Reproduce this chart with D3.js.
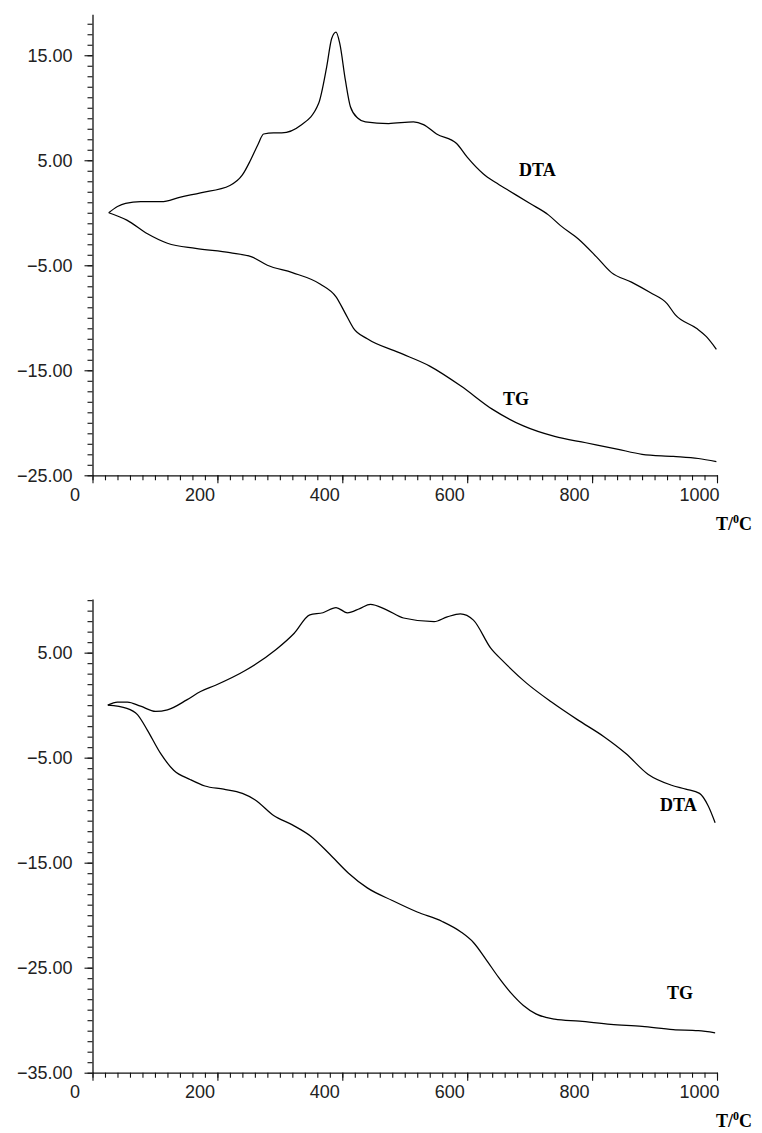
<!DOCTYPE html>
<html><head><meta charset="utf-8">
<script src="https://cdn.jsdelivr.net/npm/d3@7"></script>
<style>body{margin:0;background:#fff} svg{display:block}</style>
</head><body><svg id="c" width="762" height="1133"></svg>
<script>
// ---------- DATA ----------
const xTickValues = [0, 200, 400, 600, 800, 1000];
const xTickLabels = ["0", "200", "400", "600", "800", "1000"];

const topYTickValues = [15, 5, -5, -15, -25];
const topYTickLabels = ["15.00", "5.00", "\u22125.00", "\u221215.00", "\u221225.00"];
const botYTickValues = [5, -5, -15, -25, -35];
const botYTickLabels = ["5.00", "\u22125.00", "\u221215.00", "\u221225.00", "\u221235.00"];

// Top chart: DTA
const topDTA_T = [26, 40, 53, 77, 110, 141, 173, 220, 240, 253, 265, 274, 290, 303, 333, 362, 375, 383, 390, 396, 405, 413, 425, 437, 474, 514, 530, 551, 583, 600, 626, 645, 667, 700, 730, 749, 778, 807, 831, 863, 893, 920, 933, 967, 983, 999];
const topDTA_V = [0, 0.6, 0.9, 1.05, 1.05, 1.5, 1.9, 2.6, 3.6, 5.0, 6.5, 7.5, 7.6, 7.6, 8.3, 10.4, 13.9, 16.6, 17.2, 16.1, 12.6, 10.1, 9.0, 8.65, 8.5, 8.65, 8.4, 7.5, 6.6, 5.3, 3.7, 2.9, 2.1, 0.9, -0.2, -1.2, -2.5, -4.2, -5.7, -6.6, -7.6, -8.65, -9.7, -11.0, -11.8, -13.0];
// Top chart: TG
const topTG_T = [26, 55, 88, 120, 165, 220, 255, 280, 320, 365, 390, 405, 418, 440, 490, 540, 590, 640, 690, 740, 790, 840, 880, 930, 970, 999];
const topTG_V = [0, -0.7, -2.0, -2.9, -3.4, -3.8, -4.2, -5.0, -5.7, -6.8, -8.0, -9.6, -11.0, -12.0, -13.3, -14.6, -16.5, -18.7, -20.3, -21.3, -21.9, -22.5, -23.0, -23.2, -23.4, -23.7];

// Bottom chart: DTA
const botDTA_T = [24.5, 40, 56, 77, 101, 120, 151, 173, 197, 246, 294, 323, 348, 369, 390, 408, 428, 445, 470, 498, 547, 568, 589, 610, 638, 659, 695, 735, 777, 819, 854, 890, 926, 950, 972, 986, 997];
const botDTA_V = [0, 0.3, 0.3, -0.1, -0.6, -0.45, 0.5, 1.3, 1.9, 3.35, 5.3, 6.85, 8.6, 8.8, 9.3, 8.8, 9.2, 9.6, 9.1, 8.3, 7.95, 8.4, 8.7, 8.1, 5.4, 4.1, 2.1, 0.3, -1.4, -3.0, -4.6, -6.6, -7.6, -8.0, -8.4, -9.6, -11.2];
// Bottom chart: TG
const botTG_T = [24.5, 55, 72, 88, 109, 130, 157, 180, 210, 240, 260, 290, 320, 350, 380, 410, 440, 480, 520, 560, 590, 610, 630, 650, 670, 690, 710, 740, 780, 830, 880, 930, 970, 997];
const botTG_V = [0, -0.3, -0.9, -2.4, -4.6, -6.2, -7.1, -7.7, -8.0, -8.4, -9.0, -10.5, -11.4, -12.5, -14.2, -16.0, -17.4, -18.6, -19.7, -20.6, -21.6, -22.6, -24.2, -25.9, -27.4, -28.6, -29.4, -29.9, -30.1, -30.4, -30.6, -30.9, -31.0, -31.2];

// ---------- DRAWING ----------
const svg = d3.select("#c");
const x = d3.scaleLinear().domain([0, 1000]).range([92.5, 717]);
const minorX = d3.range(0, 1001, 20);
const tickFont = "'Liberation Sans', Arial, sans-serif";
const labelFont = "'Liberation Serif', 'Times New Roman', serif";

function drawChart(cfg) {
  const g = svg.append("g");
  const y = d3.scaleLinear().domain(cfg.yDomain).range(cfg.yRange);
  const minorY = d3.range(Math.ceil(cfg.yDomain[0]), Math.floor(cfg.yDomain[1]) + 1, 1);
  const base = cfg.yRange[0];

  g.append("g").attr("transform", `translate(${x(0)},0)`)
    .call(d3.axisLeft(y).tickValues(minorY).tickSize(5).tickSizeOuter(0).tickFormat(""))
    .call(a => a.select(".domain").attr("stroke", "#111").attr("stroke-width", 1.3))
    .call(a => a.selectAll(".tick line").attr("stroke", "#111").attr("stroke-width", 1.1));
  g.append("g").attr("transform", `translate(${x(0)},0)`)
    .call(d3.axisLeft(y).tickValues(cfg.yTicks).tickSize(8).tickSizeOuter(0).tickPadding(12)
      .tickFormat((d, i) => cfg.yLabels[i]))
    .call(a => a.select(".domain").remove())
    .call(a => a.selectAll(".tick line").attr("stroke", "#111").attr("stroke-width", 1.1))
    .call(a => a.selectAll(".tick text").attr("font-family", tickFont).attr("font-size", 18).attr("fill", "#222"));

  g.append("g").attr("transform", `translate(0,${base})`)
    .call(d3.axisBottom(x).tickValues(minorX).tickSize(5).tickSizeOuter(0).tickFormat(""))
    .call(a => a.select(".domain").attr("stroke", "#111").attr("stroke-width", 1.3))
    .call(a => a.selectAll(".tick line").attr("stroke", "#111").attr("stroke-width", 1.1));
  g.append("g").attr("transform", `translate(0,${base})`)
    .call(d3.axisBottom(x).tickValues(xTickValues).tickSize(8).tickSizeOuter(0).tickPadding(5)
      .tickFormat((d, i) => xTickLabels[i]))
    .call(a => a.select(".domain").remove())
    .call(a => a.selectAll(".tick line").attr("stroke", "#111").attr("stroke-width", 1.1))
    .call(a => a.selectAll(".tick text").attr("font-family", tickFont).attr("font-size", 18)
      .attr("fill", "#222").attr("dx", -18));

  const line = d3.line().x(d => x(d[0])).y(d => y(d[1])).curve(d3.curveMonotoneX);
  cfg.series.forEach(s => {
    g.append("path").datum(s.T.map((t, i) => [t, s.V[i]]))
      .attr("d", line).attr("fill", "none").attr("stroke", "#000").attr("stroke-width", 1.25);
  });

  cfg.labels.forEach(l => {
    g.append("text").attr("x", l.x).attr("y", l.y).text(l.text)
      .attr("font-family", labelFont).attr("font-weight", "bold").attr("font-size", 18).attr("fill", "#000");
  });

  const t = g.append("text").attr("x", 716).attr("y", cfg.unitY)
    .attr("font-family", labelFont).attr("font-weight", "bold").attr("font-size", 18).attr("fill", "#000");
  t.append("tspan").text("T/");
  t.append("tspan").text("0").attr("font-size", 12).attr("dy", -7);
  t.append("tspan").text("C").attr("dy", 7);
}

drawChart({
  yDomain: [-25, 18.9], yRange: [475.3, 14.3],
  yTicks: topYTickValues, yLabels: topYTickLabels,
  series: [{T: topDTA_T, V: topDTA_V}, {T: topTG_T, V: topTG_V}],
  labels: [{text: "DTA", x: 519, y: 176}, {text: "TG", x: 503, y: 405}],
  unitY: 530
});

drawChart({
  yDomain: [-35, 10.1], yRange: [1072.7, 599.1],
  yTicks: botYTickValues, yLabels: botYTickLabels,
  series: [{T: botDTA_T, V: botDTA_V}, {T: botTG_T, V: botTG_V}],
  labels: [{text: "DTA", x: 660, y: 811}, {text: "TG", x: 667, y: 999}],
  unitY: 1127
});
</script>
</body></html>
